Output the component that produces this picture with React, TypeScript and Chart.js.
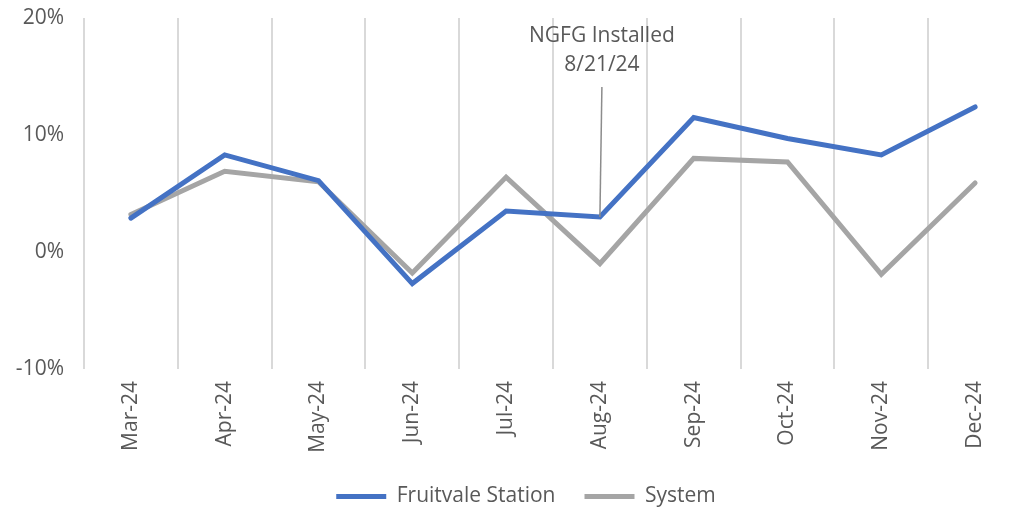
import React, { useEffect, useRef } from "react";
import { Chart, registerables } from "chart.js";

Chart.register(...registerables);

const categories = ["Mar-24", "Apr-24", "May-24", "Jun-24", "Jul-24", "Aug-24", "Sep-24", "Oct-24", "Nov-24", "Dec-24"];
const fruitvale = [2.9, 8.3, 6.1, -2.7, 3.5, 3.0, 11.5, 9.7, 8.3, 12.4];
const systemVals = [3.2, 6.9, 6.0, -1.8, 6.4, -1.0, 8.0, 7.7, -1.9, 5.9];
const yTicks = [-10, 0, 10, 20];
const annotationLines = ["NGFG Installed", "8/21/24"];
const annotationIndex = 5;
const annotationTextValues = [18.5, 16.0];
const annotationLineTop = 14.1;

const FONT = "'Open Sans', sans-serif";
const TEXT = "#595959";

const annotationPlugin = {
  id: "ngfg",
  afterDatasetsDraw(chart: any) {
    const { ctx, scales } = chart;
    const xs = scales.x;
    const ys = scales.y;
    const x = xs.getPixelForValue(annotationIndex);
    ctx.save();
    ctx.strokeStyle = "#8c8c8c";
    ctx.lineWidth = 1.5;
    ctx.beginPath();
    ctx.moveTo(x + 2, ys.getPixelForValue(annotationLineTop));
    ctx.lineTo(x, ys.getPixelForValue(fruitvale[annotationIndex]));
    ctx.stroke();
    ctx.fillStyle = TEXT;
    ctx.font = `21px ${FONT}`;
    ctx.textAlign = "center";
    ctx.textBaseline = "middle";
    annotationLines.forEach((t, i) => {
      ctx.fillText(t, x + 2, ys.getPixelForValue(annotationTextValues[i]));
    });
    ctx.restore();
  },
};

const legendShift = {
  id: "legendShift",
  afterLayout(chart: any) {
    const lg = chart.legend;
    if (lg) {
      lg.left += 11;
      lg.right += 11;
      lg.top -= 10;
      lg.bottom -= 10;
    }
  },
};

export default function App() {
  const ref = useRef<HTMLCanvasElement>(null);
  useEffect(() => {
    if (!ref.current) return;
    const chart = new Chart(ref.current, {
      type: "line",
      data: {
        labels: categories,
        datasets: [
          {
            label: "Fruitvale Station",
            data: fruitvale,
            borderColor: "#4472C4",
            backgroundColor: "#4472C4",
            borderWidth: 5,
            borderCapStyle: "round",
            pointRadius: 0,
            tension: 0,
          },
          {
            label: "System",
            data: systemVals,
            borderColor: "#A5A5A5",
            backgroundColor: "#A5A5A5",
            borderWidth: 5,
            borderCapStyle: "round",
            pointRadius: 0,
            tension: 0,
          },
        ],
      },
      options: {
        animation: false,
        responsive: false,
        maintainAspectRatio: false,
        layout: { padding: { top: 10, right: 0, left: 0, bottom: 0 } },
        plugins: {
          legend: {
            position: "bottom",
            labels: {
              usePointStyle: true,
              pointStyle: "line",
              pointStyleWidth: 50,
              color: TEXT,
              font: { family: FONT, size: 21 },
              padding: 29,
            },
          },
          tooltip: { enabled: false },
        },
        scales: {
          x: {
            offset: true,
            grid: { display: true, offset: true, color: "#d9d9d9", lineWidth: 2, drawTicks: false },
            border: { display: false },
            ticks: {
              color: TEXT,
              font: { family: FONT, size: 21 },
              minRotation: 90,
              maxRotation: 90,
              padding: 12,
            },
            afterFit(scale: any) {
              scale.height = 98;
              scale.paddingLeft = 0;
              scale.paddingRight = 0;
            },
          },
          y: {
            min: -10,
            max: 20,
            afterBuildTicks(scale: any) {
              scale.ticks = yTicks.map((v) => ({ value: v }));
            },
            grid: { display: false, drawTicks: false },
            border: { display: false },
            ticks: {
              color: TEXT,
              font: { family: FONT, size: 21 },
              padding: 20,
              callback: (v: any) => `${v}%`,
            },
            afterFit(scale: any) {
              scale.width = 76;
              scale.paddingTop = 0;
              scale.paddingBottom = 0;
            },
          },
        },
      },
      plugins: [annotationPlugin, legendShift],
    });
    return () => chart.destroy();
  }, []);
  return (
    <div style={{ width: 1004, height: 500, overflow: "hidden" }}>
      <canvas ref={ref} width={1014} height={519} style={{ display: "block" }} />
    </div>
  );
}
